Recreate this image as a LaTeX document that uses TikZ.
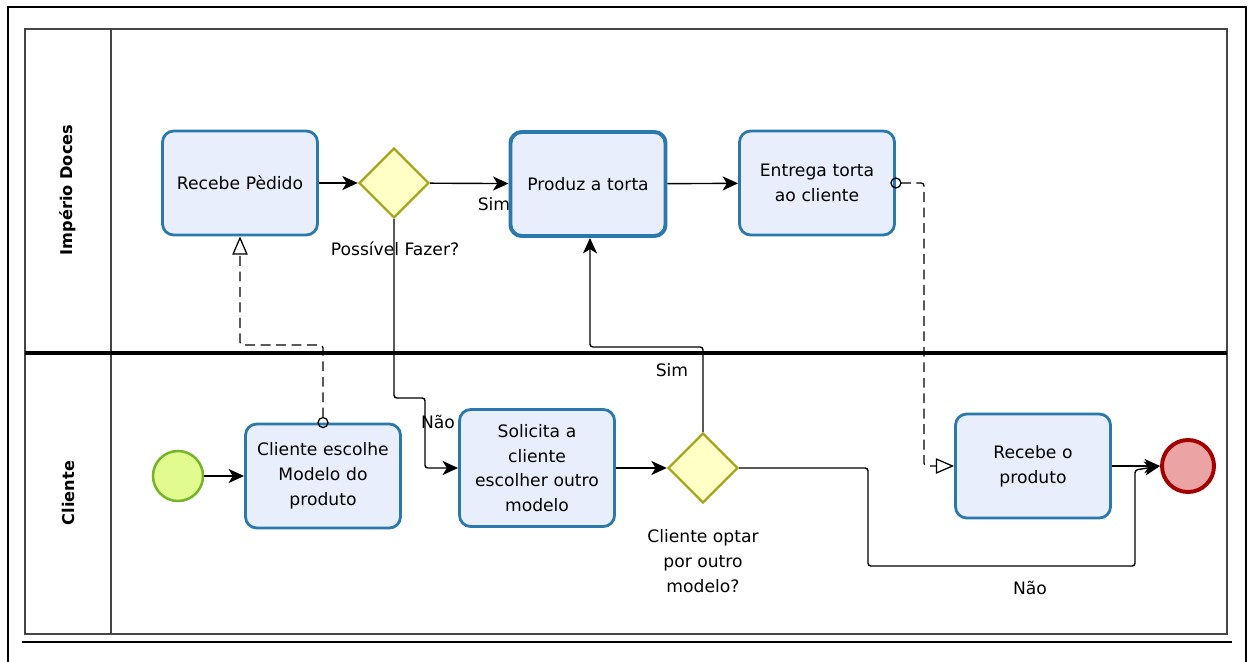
\documentclass[tikz,border=0pt]{standalone}
\usepackage{fontspec}
\setmainfont{DejaVu Sans}
\usetikzlibrary{arrows.meta,shapes.geometric,positioning}
\definecolor{taskline}{HTML}{2A78AC}
\definecolor{taskfill}{HTML}{E9EEFC}
\definecolor{gateline}{HTML}{A6A61E}
\definecolor{gatefill}{HTML}{FFFFC6}
\definecolor{startline}{HTML}{76B52A}
\definecolor{startfill}{HTML}{E1FB8F}
\definecolor{endline}{HTML}{A30000}
\definecolor{endfill}{HTML}{ECA3A3}
\definecolor{poolline}{HTML}{454545}
\tikzset{
    task/.style={draw=taskline,fill=taskfill,line width=2pt,rounded corners=8pt,minimum width=3.875cm,minimum height=2.6cm,align=center,text width=3.6cm,inner sep=0pt},
    gate/.style={diamond,draw=gateline,fill=gatefill,line width=1.7pt,minimum width=1.75cm,minimum height=1.75cm,inner sep=0pt},
    startev/.style={circle,draw=startline,fill=startfill,line width=1.8pt,minimum size=1.25cm,inner sep=0pt},
    endev/.style={circle,draw=endline,fill=endfill,line width=2.8pt,minimum size=1.3cm,inner sep=0pt},
    seq/.style={-{Stealth[length=11pt,width=10pt,inset=3pt]},line width=1pt,rounded corners=2pt},
    msg/.style={{Circle[open,length=8pt,width=8pt]}-{Triangle[open,length=13pt,width=11pt]},line width=0.9pt,dash pattern=on 7pt off 4pt,rounded corners=2pt,shorten <=-4pt},
    lane/.style={rotate=90,font=\fontsize{11.5}{14}\selectfont\bfseries},
    gatelabel/.style={align=center}
}
\def\lanesep{353}

\begin{document}
\begin{tikzpicture}[x=0.025cm,y=-0.025cm,font=\fontsize{12.2}{17.6}\selectfont]
  \useasboundingbox (0,0) rectangle (1248,662);
  % Frame
  \draw[line width=2pt] (8,662) -- (8,7) -- (1246,7) -- (1246,662);
  \draw[line width=2pt] (22,642) -- (1232,642);

  % Pool and lanes
  \draw[poolline,line width=1.3pt] (25,29) rectangle (1227,634);
  \draw[poolline,line width=1.3pt] (111,29) -- (111,634);
  \draw[line width=2.2pt] (25,\lanesep) -- (1227,\lanesep);
  \node[lane] (imperio) at (68,190) {Império Doces};
  \node[lane] (cliente) at (68,493) {Cliente};

  % Tasks
  \node[task] (pedido) at (240,183) {Recebe Pèdido};
  \node[gate] (fazer) at (394,183) {};
  \node[task,line width=2.8pt] (produz) at (588,184) {Produz a torta};
  \node[task] (entrega) at (817,183) {Entrega torta\\ao cliente};
  \node[startev] (inicio) at (178,476) {};
  \node[task] (escolhe) at (323,476) {Cliente escolhe\\Modelo do\\produto};
  \node[task,minimum height=2.925cm] (solicita) at (537,468) {Solicita a\\cliente\\escolher outro\\modelo};
  \node[gate] (optar) at (703,468) {};
  \node[task] (recebe) at (1033,466) {Recebe o\\produto};
  \node[endev] (fim) at (1188,466) {};

  % Gateway labels
  \node[gatelabel] (fazerlbl) at (395,249) {Possível Fazer?};
  \node[gatelabel] (optarlbl) at (703,561) {Cliente optar\\por outro\\modelo?};

  % Sequence flows
  \draw[seq] (pedido) -- (fazer);
  \draw[seq] (fazer) -- (produz);
  \node (sim1) at (494,204) {Sim};
  \draw[seq] (fazer.south) |- (425,398) |- (solicita.west);
  \node (nao1) at (438,422) {Não};
  \draw[seq] (produz) -- (entrega);
  \draw[seq] (inicio) -- (escolhe);
  \draw[seq] (solicita) -- (optar);
  \draw[seq] (optar.north) |- (590,347) -- (produz.south -| 590,347);
  \node (sim2) at (672,370) {Sim};
  \draw[seq] (optar.east) -| (868,566) -| (1135,470) -- (fim.west);
  \node (nao2) at (1030,588) {Não};
  \draw[seq] (recebe) -- (fim);

  % Message flows
  \draw[msg] (escolhe.north) |- (240,345) -- (pedido.south);
  \draw[msg] (entrega.east) -| (924,300) |- (recebe.west);
\end{tikzpicture}
\end{document}
